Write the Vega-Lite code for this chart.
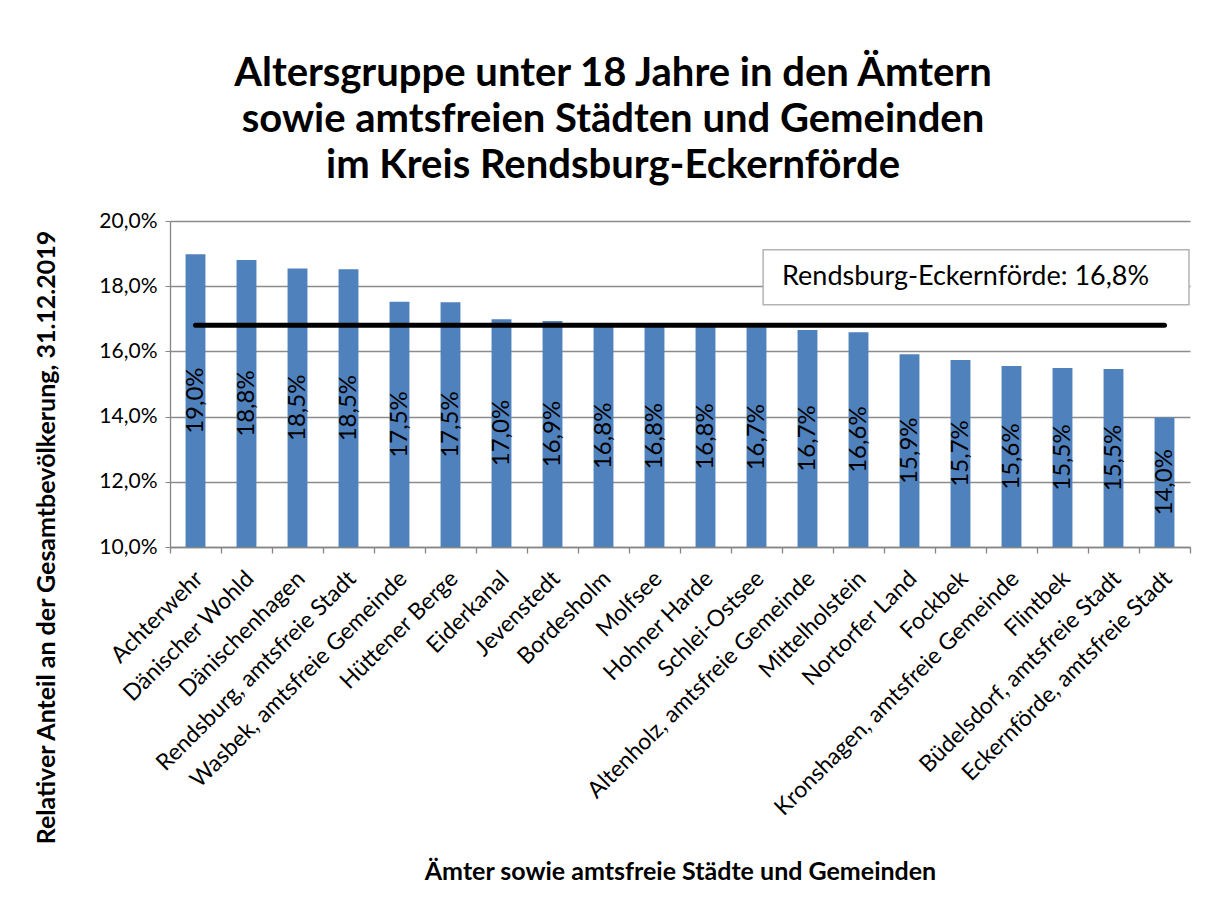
{
  "$schema": "https://vega.github.io/schema/vega-lite/v6.json",
  "width": 1020,
  "height": 326,
  "autosize": "none",
  "padding": {"left": 170, "top": 221, "right": 24, "bottom": 363},
  "background": "white",
  "config": {
    "locale": {"number": {"decimal": ",", "thousands": ".", "grouping": [3], "currency": ["", " €"]}},
    "font": "Lato",
    "view": {"stroke": null}
  },
  "title": {
    "text": ["Altersgruppe unter 18 Jahre in den Ämtern", "sowie amtsfreien Städten und Gemeinden", "im Kreis Rendsburg-Eckernförde"],
    "fontSize": 40,
    "fontWeight": "bold",
    "font": "Lato",
    "color": "black",
    "anchor": "middle",
    "frame": "group",
    "dx": -67,
    "lineHeight": 46,
    "offset": 24
  },
  "data": {
    "values": [
      {"name": "Achterwehr", "value": 0.1898},
      {"name": "Dänischer Wohld", "value": 0.1880},
      {"name": "Dänischenhagen", "value": 0.1854},
      {"name": "Rendsburg, amtsfreie Stadt", "value": 0.1852},
      {"name": "Wasbek, amtsfreie Gemeinde", "value": 0.1752},
      {"name": "Hüttener Berge", "value": 0.1751},
      {"name": "Eiderkanal", "value": 0.1699},
      {"name": "Jevenstedt", "value": 0.1693},
      {"name": "Bordesholm", "value": 0.1682},
      {"name": "Molfsee", "value": 0.1680},
      {"name": "Hohner Harde", "value": 0.1678},
      {"name": "Schlei-Ostsee", "value": 0.1674},
      {"name": "Altenholz, amtsfreie Gemeinde", "value": 0.1666},
      {"name": "Mittelholstein", "value": 0.1659},
      {"name": "Nortorfer Land", "value": 0.1591},
      {"name": "Fockbek", "value": 0.1574},
      {"name": "Kronshagen, amtsfreie Gemeinde", "value": 0.1555},
      {"name": "Flintbek", "value": 0.1549},
      {"name": "Büdelsdorf, amtsfreie Stadt", "value": 0.1546},
      {"name": "Eckernförde, amtsfreie Stadt", "value": 0.1397}
    ]
  },
  "resolve": {"axis": {"x": "independent"}},
  "layer": [
    {
      "mark": {"type": "bar", "color": "#4F81BD", "width": {"band": 0.39}},
      "encoding": {
        "x": {
          "field": "name", "type": "nominal", "sort": null,
          "scale": {"paddingInner": 0, "paddingOuter": 0},
          "axis": {
            "orient": "bottom",
            "title": "Ämter sowie amtsfreie Städte und Gemeinden",
            "titleFontSize": 25, "titleFontWeight": "bold", "titleColor": "black",
            "titleY": 332, "titleBaseline": "alphabetic",
            "labelAngle": -45, "labelFontSize": 23, "labelColor": "black",
            "labelPadding": 20, "labelOffset": -4, "labelLimit": 500, "labelOverlap": false,
            "ticks": false, "domain": true, "domainColor": "#868686", "domainWidth": 1.3,
            "grid": false
          }
        },
        "y": {
          "field": "value", "type": "quantitative",
          "scale": {"domain": [0.1, 0.2], "nice": false, "zero": false},
          "axis": {
            "title": "Relativer Anteil an der Gesamtbevölkerung, 31.12.2019",
            "titleFontSize": 25, "titleFontWeight": "bold", "titleColor": "black",
            "titleX": -124, "titleY": 316, "titleBaseline": "middle", "titleAngle": -90,
            "format": ".1%", "values": [0.10, 0.12, 0.14, 0.16, 0.18, 0.20],
            "labelFontSize": 21, "labelColor": "black", "labelPadding": 8,
            "tickSize": 5, "tickColor": "#868686", "domainColor": "#868686", "domainWidth": 1.3,
            "grid": true, "gridColor": "#8c8c8c", "gridWidth": 1.3
          }
        },
        "y2": {"datum": 0.1}
      }
    },
    {
      "transform": [{"calculate": "(datum.value + 0.1) / 2", "as": "mid"}],
      "mark": {"type": "text", "angle": 270, "align": "center", "baseline": "middle", "fontSize": 24, "color": "black"},
      "encoding": {
        "x": {"field": "name", "type": "nominal", "sort": null, "axis": null},
        "y": {"field": "mid", "type": "quantitative"},
        "text": {"field": "value", "type": "quantitative", "format": ".1%"}
      }
    },
    {
      "mark": {"type": "line", "color": "black", "strokeWidth": 5, "strokeCap": "round"},
      "encoding": {
        "x": {
          "field": "name", "type": "nominal", "sort": null,
          "axis": {"orient": "bottom", "title": null, "labels": false, "domain": false, "grid": false,
                   "ticks": true, "bandPosition": 1, "tickExtra": true, "tickSize": 6, "tickColor": "#868686", "tickWidth": 1.3}
        },
        "y": {"datum": 0.168}
      }
    },
    {
      "data": {"values": [{"label": "Rendsburg-Eckernförde: 16,8%"}]},
      "mark": {"type": "rect", "fill": "white", "stroke": "#b3b3b3", "strokeWidth": 1.5},
      "encoding": {
        "x": {"datum": "Schlei-Ostsee", "bandPosition": 0.63, "axis": null},
        "x2": {"datum": "Eckernförde, amtsfreie Stadt", "bandPosition": 0.98},
        "y": {"datum": 0.1912},
        "y2": {"datum": 0.1743}
      }
    },
    {
      "data": {"values": [{"label": "Rendsburg-Eckernförde: 16,8%"}]},
      "mark": {"type": "text", "align": "center", "baseline": "middle", "fontSize": 27, "color": "black"},
      "encoding": {
        "x": {"datum": "Fockbek", "bandPosition": 0.6, "axis": null},
        "y": {"datum": 0.1827},
        "text": {"field": "label"}
      }
    }
  ]
}
